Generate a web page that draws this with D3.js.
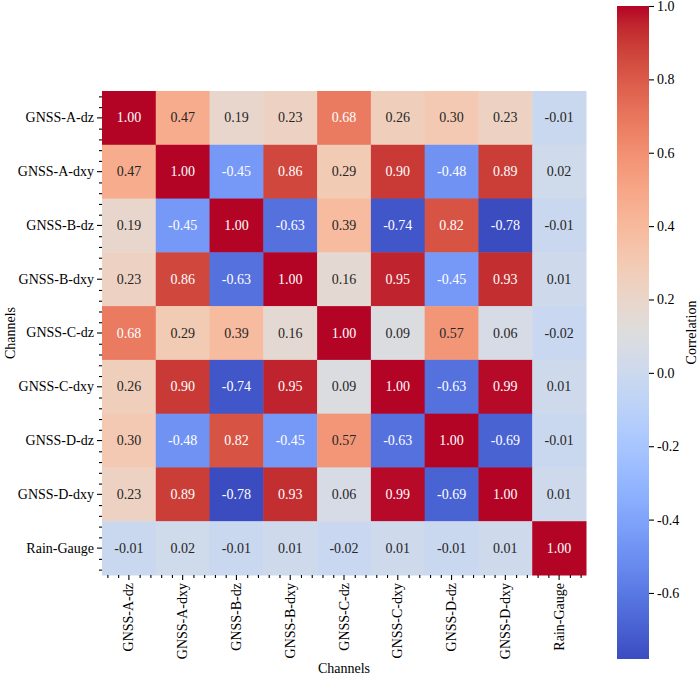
<!DOCTYPE html>
<html>
<head>
<meta charset="utf-8">
<script src="https://cdn.jsdelivr.net/npm/d3@7"></script>
<style>
  body { margin: 0; background: #fff; }
  text { font-family: "Liberation Serif", "Times New Roman", serif; }
</style>
</head>
<body>
<div id="chart"></div>
<script>
var channels = ["GNSS-A-dz", "GNSS-A-dxy", "GNSS-B-dz", "GNSS-B-dxy", "GNSS-C-dz",
                "GNSS-C-dxy", "GNSS-D-dz", "GNSS-D-dxy", "Rain-Gauge"];

var corr = [
  [ 1.00,  0.47,  0.19,  0.23,  0.68,  0.26,  0.30,  0.23, -0.01],
  [ 0.47,  1.00, -0.45,  0.86,  0.29,  0.90, -0.48,  0.89,  0.02],
  [ 0.19, -0.45,  1.00, -0.63,  0.39, -0.74,  0.82, -0.78, -0.01],
  [ 0.23,  0.86, -0.63,  1.00,  0.16,  0.95, -0.45,  0.93,  0.01],
  [ 0.68,  0.29,  0.39,  0.16,  1.00,  0.09,  0.57,  0.06, -0.02],
  [ 0.26,  0.90, -0.74,  0.95,  0.09,  1.00, -0.63,  0.99,  0.01],
  [ 0.30, -0.48,  0.82, -0.45,  0.57, -0.63,  1.00, -0.69, -0.01],
  [ 0.23,  0.89, -0.78,  0.93,  0.06,  0.99, -0.69,  1.00,  0.01],
  [-0.01,  0.02, -0.01,  0.01, -0.02,  0.01, -0.01,  0.01,  1.00]
];

var colorbarTicks = [-0.6, -0.4, -0.2, 0.0, 0.2, 0.4, 0.6, 0.8, 1.0];

// coolwarm (Moreland) anchor colours
var coolwarm = ["#3b4cc0", "#445acc", "#4d68d7", "#5775e1", "#6282ea", "#6c8ef1", "#779af7",
  "#82a5fb", "#8db0fe", "#98b9ff", "#a3c2ff", "#aec9fd", "#b8d0f9", "#c2d5f4", "#ccd9ee",
  "#d5dbe6", "#dddddd", "#e5d8d1", "#ecd3c5", "#f1cdb8", "#f5c4ac", "#f7bb9f", "#f7b193",
  "#f7a686", "#f49a7b", "#f18d6f", "#ec7f63", "#e57058", "#de604d", "#d55042", "#cb3e38",
  "#c0282f", "#b40426"];

var width = 699;
var height = 674;
var hmLeft = 102, hmTop = 91, hmSize = 484;
var cbX = 617, cbW = 32, cbTop = 6, cbBottom = 659;

var cells = [];
corr.forEach(function(row, i) {
    row.forEach(function(v, j) {
        cells.push({row: channels[i], col: channels[j], value: v});
    });
});

var vmin = d3.min(cells, function(d) { return d.value; });
var vmax = d3.max(cells, function(d) { return d.value; });

var cmap = d3.scaleLinear()
    .domain(coolwarm.map(function(c, i) { return i / (coolwarm.length - 1); }))
    .range(coolwarm)
    .interpolate(d3.interpolateRgb)
    .clamp(true);

var norm = d3.scaleLinear().domain([vmin, vmax]).range([0, 1]);
function color(v) { return cmap(norm(v)); }

function luminance(c) {
    var rgb = d3.rgb(c);
    var lin = [rgb.r, rgb.g, rgb.b].map(function(x) {
        x = x / 255;
        return x <= 0.03928 ? x / 12.92 : Math.pow((x + 0.055) / 1.055, 2.4);
    });
    return 0.2126 * lin[0] + 0.7152 * lin[1] + 0.0722 * lin[2];
}

var svg = d3.select("#chart").append("svg")
    .attr("width", width)
    .attr("height", height);

var x = d3.scaleBand().domain(channels).range([hmLeft, hmLeft + hmSize]);
var y = d3.scaleBand().domain(channels).range([hmTop, hmTop + hmSize]);

svg.selectAll("rect.cell")
    .data(cells)
    .enter().append("rect")
    .attr("class", "cell")
    .attr("x", function(d) { return x(d.col); })
    .attr("y", function(d) { return y(d.row); })
    .attr("width", x.bandwidth() + 0.5)
    .attr("height", y.bandwidth() + 0.5)
    .attr("fill", function(d) { return color(d.value); });

svg.selectAll("text.annot")
    .data(cells)
    .enter().append("text")
    .attr("class", "annot")
    .attr("x", function(d) { return x(d.col) + x.bandwidth() / 2; })
    .attr("y", function(d) { return y(d.row) + y.bandwidth() / 2; })
    .attr("text-anchor", "middle")
    .attr("dominant-baseline", "central")
    .style("font-size", "14px")
    .attr("fill", function(d) { return luminance(color(d.value)) > 0.408 ? "#262626" : "#fff"; })
    .text(function(d) { return d.value.toFixed(2); });

// minor tick positions (in cell units)
var minor = [];
channels.forEach(function(c, i) {
    [0.1, 0.3, 0.7, 0.9].forEach(function(f) { minor.push(i + f); });
});
var xi = d3.scaleLinear().domain([0, channels.length]).range([hmLeft, hmLeft + hmSize]);
var yi = d3.scaleLinear().domain([0, channels.length]).range([hmTop, hmTop + hmSize]);

// y axis
var yAxis = svg.append("g")
    .attr("transform", "translate(" + hmLeft + ",0)")
    .call(d3.axisLeft(y).tickSize(5).tickPadding(3));
yAxis.select(".domain").remove();
yAxis.selectAll("text").style("font-size", "14px").style("font-family", "Liberation Serif");

var yMinor = svg.append("g")
    .attr("transform", "translate(" + hmLeft + ",0)")
    .call(d3.axisLeft(yi).tickValues(minor).tickSize(3).tickFormat(""));
yMinor.select(".domain").remove();

// x axis
var xAxis = svg.append("g")
    .attr("transform", "translate(0," + (hmTop + hmSize) + ")")
    .call(d3.axisBottom(x).tickSize(5).tickPadding(3));
xAxis.select(".domain").remove();
xAxis.selectAll("text")
    .style("font-size", "14px")
    .style("font-family", "Liberation Serif")
    .attr("text-anchor", "end")
    .attr("dy", null)
    .attr("dominant-baseline", "central")
    .attr("transform", "translate(0,8) rotate(-90)")
    .attr("x", 0)
    .attr("y", 0);

var xMinor = svg.append("g")
    .attr("transform", "translate(0," + (hmTop + hmSize) + ")")
    .call(d3.axisBottom(xi).tickValues(minor).tickSize(3).tickFormat(""));
xMinor.select(".domain").remove();

svg.selectAll(".tick line").attr("stroke", "#000").attr("stroke-width", 1.1);

// axis labels
svg.append("text")
    .attr("x", hmLeft + hmSize / 2)
    .attr("y", 668)
    .attr("text-anchor", "middle")
    .attr("dominant-baseline", "central")
    .style("font-size", "14px")
    .text("Channels");

svg.append("text")
    .attr("transform", "translate(10," + (hmTop + hmSize / 2) + ") rotate(-90)")
    .attr("text-anchor", "middle")
    .attr("dominant-baseline", "central")
    .style("font-size", "14px")
    .text("Channels");

// colorbar
var cb = d3.scaleLinear().domain([vmin, vmax]).range([cbBottom, cbTop]);

var grad = svg.append("defs").append("linearGradient")
    .attr("id", "cbgrad")
    .attr("x1", 0).attr("y1", 1).attr("x2", 0).attr("y2", 0);
grad.selectAll("stop")
    .data(coolwarm)
    .enter().append("stop")
    .attr("offset", function(c, i) { return i / (coolwarm.length - 1); })
    .attr("stop-color", function(c) { return c; });

svg.append("rect")
    .attr("x", cbX)
    .attr("y", cbTop)
    .attr("width", cbW)
    .attr("height", cbBottom - cbTop)
    .attr("fill", "url(#cbgrad)");

var cbAxis = svg.append("g")
    .attr("transform", "translate(" + (cbX + cbW) + ",0)")
    .call(d3.axisRight(cb).tickValues(colorbarTicks).tickSize(5).tickPadding(3)
        .tickFormat(function(d) { return d.toFixed(1).replace("\u2212", "-"); }));
cbAxis.select(".domain").remove();
cbAxis.selectAll("text").style("font-size", "14px").style("font-family", "Liberation Serif");
cbAxis.selectAll(".tick line").attr("stroke", "#000").attr("stroke-width", 1.1);

svg.append("text")
    .attr("transform", "translate(691," + ((cbTop + cbBottom) / 2) + ") rotate(-90)")
    .attr("text-anchor", "middle")
    .attr("dominant-baseline", "central")
    .style("font-size", "14px")
    .text("Correlation");
</script>
</body>
</html>
